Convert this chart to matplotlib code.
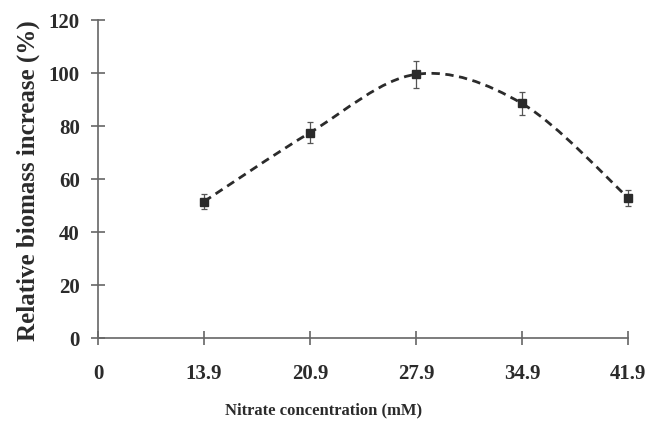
import numpy as np
import matplotlib.pyplot as plt
from matplotlib.path import Path
from matplotlib.patches import PathPatch

# datos
tick_labels = ["0", "13.9", "20.9", "27.9", "34.9", "41.9"]
nitrate_pos = [1, 2, 3, 4, 5]
biomass = [51.5, 77.5, 99.5, 88.5, 53.0]
biomass_err = [3.0, 4.0, 5.0, 4.5, 3.0]

plt.rcParams["font.family"] = ["Liberation Serif", "DejaVu Serif"]
plt.rcParams["font.weight"] = "bold"

fig = plt.figure(figsize=(6.47, 4.23), dpi=100)
ax = fig.add_axes([0.1515, 0.2009, 0.8191, 0.7518])

dark = "#2b2b2b"

# curva suave (Catmull-Rom -> Bezier) construida desde los puntos
x = np.array(nitrate_pos, dtype=float)
y = np.array(biomass, dtype=float)
verts = [(x[0], y[0])]
codes = [Path.MOVETO]
for i in range(len(x) - 1):
    p0 = (x[i - 1], y[i - 1]) if i > 0 else (x[i], y[i])
    p1 = (x[i], y[i])
    p2 = (x[i + 1], y[i + 1])
    p3 = (x[i + 2], y[i + 2]) if i + 2 < len(x) else (x[i + 1], y[i + 1])
    c1 = (p1[0] + (p2[0] - p0[0]) / 6, p1[1] + (p2[1] - p0[1]) / 6)
    c2 = (p2[0] - (p3[0] - p1[0]) / 6, p2[1] - (p3[1] - p1[1]) / 6)
    verts += [c1, c2, p2]
    codes += [Path.CURVE4] * 3
ax.add_patch(PathPatch(Path(verts, codes), fill=False, edgecolor=dark,
                       lw=2.0, linestyle=(0, (3, 2)), clip_on=False))

markers, caps, bars = ax.errorbar(nitrate_pos, biomass, yerr=biomass_err,
                                  fmt="s", color=dark, ms=6, ecolor="#555555",
                                  elinewidth=0.9, capsize=2.5, capthick=0.9)
markers.set_clip_on(False)
for c in caps:
    c.set_clip_on(False)
for b in bars:
    b.set_clip_on(False)

ax.set_xlim(0, 5)
ax.set_ylim(0, 120)
ax.set_xticks(range(6))
ax.set_xticklabels(tick_labels)
ax.set_yticks(np.arange(0, 121, 20))

for s in ["top", "right"]:
    ax.spines[s].set_visible(False)
for s in ["left", "bottom"]:
    ax.spines[s].set_color("#666666")
    ax.spines[s].set_linewidth(1.2)
ax.tick_params(direction="inout", length=10, width=1.2, color="#666666",
               labelsize=15, labelcolor=dark)
ax.tick_params(axis="x", pad=14)
ax.tick_params(axis="y", pad=8)

ax.set_xlabel("Nitrate concentration (mM)", fontsize=12, color=dark,
              fontweight="bold", va="center")
ax.xaxis.set_label_coords(0.425, -0.228)
ax.set_ylabel("Relative biomass increase (%)", fontsize=18, color=dark,
              fontweight="bold", va="center")
ax.yaxis.set_label_coords(-0.132, 0.494)

plt.savefig("out.png", dpi=100)
plt.close()
